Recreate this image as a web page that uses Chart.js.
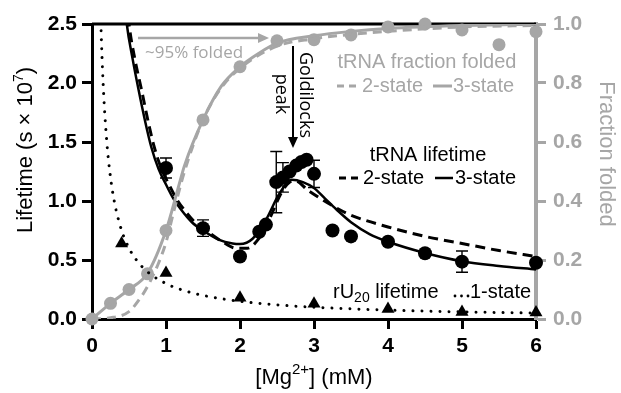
<!DOCTYPE html>
<html><head><meta charset="utf-8">
<script src="https://cdn.jsdelivr.net/npm/chart.js@4"></script>
<style>html,body{margin:0;padding:0;background:#fff}canvas{display:block}</style>
</head><body>
<canvas id="c" width="621" height="393"></canvas>
<script>
// tRNA lifetime (black circles), with error bars where visible
const lifeX   = [1.0, 1.5, 2.0, 2.26, 2.35, 2.49, 2.58, 2.67, 2.76, 2.83, 2.9, 3.0, 3.25, 3.5, 4.0, 4.5, 5.0, 6.0];
const lifeY   = [1.28, 0.77, 0.53, 0.74, 0.80, 1.16, 1.20, 1.25, 1.30, 1.33, 1.35, 1.23, 0.75, 0.70, 0.655, 0.557, 0.486, 0.477];
const lifeErr = [0.085, 0.07, 0, 0, 0, 0.26, 0.125, 0, 0, 0, 0, 0.115, 0, 0, 0, 0, 0.09, 0];

// tRNA fraction folded (grey circles, right axis)
const foldX = [0, 0.25, 0.5, 0.75, 1.0, 1.5, 2.0, 2.5, 3.0, 3.5, 4.0, 4.5, 5.0, 5.5, 6.0];
const foldY = [0, 0.053, 0.10, 0.153, 0.30, 0.675, 0.855, 0.943, 0.947, 0.963, 0.99, 1.0, 0.98, 0.93, 0.974];

// rU20 lifetime (triangles)
const rX = [0.4, 1.0, 2.0, 3.0, 4.0, 5.0, 6.0];
const rY = [0.64, 0.39, 0.18, 0.13, 0.085, 0.06, 0.055];

// fitted curves
const lt3X = [0.44, 0.47, 0.55, 0.63, 0.72, 0.8, 0.9, 1.0, 1.1, 1.2, 1.35, 1.5, 1.72, 1.9, 2.0, 2.17, 2.35, 2.53, 2.7, 2.85, 3.0, 3.15, 3.3, 3.5, 3.75, 4.0, 4.5, 5.0, 5.5, 6.0];
const lt3Y = [2.7, 2.5, 2.2, 1.94, 1.67, 1.46, 1.27, 1.14, 1.02, 0.93, 0.82, 0.75, 0.67, 0.64, 0.635, 0.68, 0.84, 1.06, 1.18, 1.16, 1.11, 1.02, 0.93, 0.82, 0.72, 0.655, 0.56, 0.49, 0.45, 0.42];
const lt2X = [0.47, 0.5, 0.58, 0.67, 0.76, 0.84, 0.94, 1.04, 1.14, 1.24, 1.39, 1.5, 1.75, 1.95, 2.1, 2.24, 2.4, 2.55, 2.67, 2.75, 2.92, 3.25, 3.5, 4.0, 4.5, 5.0, 5.5, 6.0];
const lt2Y = [2.7, 2.5, 2.2, 1.94, 1.67, 1.46, 1.27, 1.14, 1.02, 0.93, 0.82, 0.77, 0.66, 0.60, 0.60, 0.67, 0.85, 1.06, 1.16, 1.17, 1.09, 0.96, 0.88, 0.78, 0.70, 0.64, 0.58, 0.53];
const f3X = [0, 0.25, 0.5, 0.75, 1.0, 1.16, 1.25, 1.5, 1.75, 2.0, 2.25, 2.5, 3.0, 3.5, 4.0, 5.0, 6.0];
const f3Y = [0, 0.053, 0.10, 0.155, 0.30, 0.44, 0.52, 0.675, 0.79, 0.855, 0.90, 0.935, 0.96, 0.975, 0.985, 0.995, 1.0];
const f2X = [0, 0.25, 0.5, 0.65, 0.75, 0.9, 1.0, 1.1, 1.25, 1.5, 1.75, 2.0, 2.5, 3.0, 3.5, 4.0, 5.0, 6.0];
const f2Y = [0, 0.004, 0.025, 0.07, 0.11, 0.19, 0.26, 0.36, 0.50, 0.675, 0.785, 0.85, 0.925, 0.95, 0.965, 0.975, 0.99, 0.995];
const r1X = [0.11, 0.12, 0.15, 0.2, 0.25, 0.3, 0.4, 0.5, 0.6, 0.75, 1.0, 1.25, 1.5, 2.0, 2.5, 3.0, 4.0, 5.0, 6.0];
const r1Y = [2.75, 2.5, 2.0, 1.5, 1.2, 1.0, 0.75, 0.6, 0.5, 0.4, 0.3, 0.24, 0.2, 0.15, 0.12, 0.1, 0.075, 0.06, 0.05];

const GREY = "#a6a6a6";
const FONT = "'Liberation Sans', Arial, sans-serif";
const SERIF2 = "'Open Sans', 'Liberation Sans', sans-serif";
const pts = (xs, ys) => xs.map((x,i)=>({x, y:ys[i]}));

function rich(ctx, parts, x, y, align){
  let w = 0;
  parts.forEach(p=>{ ctx.font = p.f; p.w = ctx.measureText(p.t).width; w += p.w; });
  let cx = align === "center" ? x - w/2 : x;
  ctx.textAlign = "left";
  parts.forEach(p=>{ ctx.font = p.f; ctx.fillText(p.t, cx, y + (p.dy||0)); cx += p.w; });
  return cx;
}
function seg(ctx, x1, y1, x2, y2, col, w, dash){
  ctx.save(); ctx.strokeStyle = col; ctx.lineWidth = w; ctx.setLineDash(dash||[]);
  ctx.beginPath(); ctx.moveTo(x1,y1); ctx.lineTo(x2,y2); ctx.stroke(); ctx.restore();
}

const errBars = {
  id: "errBars",
  beforeDatasetsDraw(chart){
    const ctx = chart.ctx, a = chart.chartArea;
    seg(ctx, a.left, a.top, a.right, a.top, "#000", 3);
  },
  afterDatasetsDraw(chart){
    const ctx = chart.ctx, xs = chart.scales.x, ys = chart.scales.y;
    ctx.save();
    ctx.strokeStyle = "#000"; ctx.lineWidth = 1.4;
    lifeX.forEach((x,i)=>{
      const e = lifeErr[i]; if (!e) return;
      const px = xs.getPixelForValue(x);
      const y1 = ys.getPixelForValue(lifeY[i]+e), y2 = ys.getPixelForValue(lifeY[i]-e);
      ctx.beginPath();
      ctx.moveTo(px, y1); ctx.lineTo(px, y2);
      ctx.moveTo(px-6, y1); ctx.lineTo(px+6, y1);
      ctx.moveTo(px-6, y2); ctx.lineTo(px+6, y2);
      ctx.stroke();
    });
    ctx.restore();
  },
  afterDraw(chart){
    const ctx = chart.ctx;
    ctx.save();
    ctx.textBaseline = "middle";

    // axis titles
    ctx.fillStyle = "#000";
    ctx.save(); ctx.translate(26, 150); ctx.rotate(-Math.PI/2);
    rich(ctx, [{t:"Lifetime (s × 10", f:"22px "+FONT},{t:"7", f:"14px "+FONT, dy:-7},{t:")", f:"22px "+FONT}], 0, 0, "center");
    ctx.restore();
    rich(ctx, [{t:"[Mg", f:"22px "+FONT},{t:"2+", f:"15px "+FONT, dy:-8},{t:"] (mM)", f:"22px "+FONT}], 314, 378, "center");
    ctx.fillStyle = GREY;
    ctx.save(); ctx.translate(606, 154); ctx.rotate(Math.PI/2);
    rich(ctx, [{t:"Fraction folded", f:"22px "+FONT}], 0, 0, "center");
    ctx.restore();

    // fraction folded legend
    rich(ctx, [{t:"tRNA fraction folded", f:"20px "+FONT}], 427, 62, "center");
    seg(ctx, 337, 86, 359, 86, GREY, 3, [7,5]);
    rich(ctx, [{t:"2-state", f:"20px "+FONT}], 362, 86);
    seg(ctx, 433, 86, 452, 86, GREY, 3);
    rich(ctx, [{t:"3-state", f:"20px "+FONT}], 453, 86);

    // lifetime legend
    ctx.fillStyle = "#000";
    rich(ctx, [{t:"tRNA lifetime", f:"20px "+FONT}], 428, 155, "center");
    seg(ctx, 339, 178, 361, 178, "#000", 3, [7,5]);
    rich(ctx, [{t:"2-state", f:"20px "+FONT}], 363, 178);
    seg(ctx, 435, 178, 453, 178, "#000", 2.5);
    rich(ctx, [{t:"3-state", f:"20px "+FONT}], 455, 178);

    // rU20 legend
    rich(ctx, [{t:"rU", f:"20px "+FONT},{t:"20", f:"14px "+FONT, dy:6},{t:" lifetime", f:"20px "+FONT}], 333, 292);
    [455, 461.5, 468].forEach(x=>{ ctx.beginPath(); ctx.arc(x, 296, 1.4, 0, 2*Math.PI); ctx.fill(); });
    rich(ctx, [{t:"1-state", f:"20px "+FONT}], 470, 292);

    // ~95% folded arrow
    ctx.fillStyle = GREY;
    seg(ctx, 138, 38, 261, 38, GREY, 2.5);
    ctx.beginPath(); ctx.moveTo(269, 38); ctx.lineTo(258, 33); ctx.lineTo(258, 43); ctx.closePath(); ctx.fill();
    rich(ctx, [{t:"~95% folded", f:"17px "+SERIF2}], 145, 53);

    // Goldilocks peak arrow
    ctx.fillStyle = "#000";
    seg(ctx, 293, 46, 293, 140, "#000", 2);
    ctx.beginPath(); ctx.moveTo(293, 148); ctx.lineTo(288, 137); ctx.lineTo(298, 137); ctx.closePath(); ctx.fill();
    ctx.save(); ctx.translate(305, 95); ctx.rotate(Math.PI/2);
    rich(ctx, [{t:"Goldilocks", f:"18px "+SERIF2}], 0, 0, "center");
    ctx.restore();
    ctx.save(); ctx.translate(281, 94); ctx.rotate(Math.PI/2);
    rich(ctx, [{t:"peak", f:"18px "+SERIF2}], 0, 0, "center");
    ctx.restore();

    ctx.restore();
  }
};

const lineDs = (label, xs, ys, col, w, dash, axis) => ({
  type: "line", label, data: pts(xs, ys), yAxisID: axis || "y",
  borderColor: col, borderWidth: w, borderDash: dash || [], pointRadius: 0,
  cubicInterpolationMode: "monotone", fill: false
});

new Chart(document.getElementById("c"), {
  type: "scatter",
  data: {
    datasets: [
      Object.assign(lineDs("rU20 1-state", r1X, r1Y, "#000", 3, [0.01, 9]), {borderCapStyle: "round"}),
      lineDs("fraction 2-state", f2X, f2Y, GREY, 3, [9,6], "y2"),
      lineDs("fraction 3-state", f3X, f3Y, GREY, 3, [], "y2"),
      lineDs("lifetime 2-state", lt2X, lt2Y, "#000", 3, [10,6]),
      lineDs("lifetime 3-state", lt3X, lt3Y, "#000", 2.5),
      {label:"fraction folded", data: pts(foldX, foldY), yAxisID:"y2", pointRadius:6.5,
       backgroundColor: GREY, borderWidth:0, clip:false},
      {label:"rU20 lifetime", data: pts(rX, rY), pointStyle:"triangle", pointRadius:7.5,
       backgroundColor:"#000", borderWidth:0, clip:false},
      {label:"tRNA lifetime", data: pts(lifeX, lifeY), pointRadius:7,
       backgroundColor:"#000", borderWidth:0, clip:false}
    ]
  },
  options: {
    responsive: false, animation: false, devicePixelRatio: 1,
    layout: {padding: {top: 24, left: 0, right: 0, bottom: 0}},
    plugins: {legend: {display: false}, tooltip: {enabled: false}},
    scales: {
      x: {
        type: "linear", position: "bottom", min: 0, max: 6,
        ticks: {stepSize: 1, color: "#000", font: {family: FONT, size: 21, weight: "bold"}, padding: 5},
        grid: {drawOnChartArea: false, tickLength: 10, tickWidth: 3, tickColor: "#000"},
        border: {color: "#000", width: 3},
        afterFit: s => { s.height = 74; }
      },
      y: {
        position: "left", min: 0, max: 2.5,
        ticks: {stepSize: 0.5, color: "#000", font: {family: FONT, size: 21, weight: "bold"}, padding: 5,
                callback: v => v.toFixed(1)},
        grid: {drawOnChartArea: false, tickLength: 10, tickWidth: 3, tickColor: "#000"},
        border: {color: "#000", width: 3},
        afterFit: s => { s.width = 92; }
      },
      y2: {
        position: "right", min: 0, max: 1,
        ticks: {stepSize: 0.2, color: GREY, font: {family: FONT, size: 21, weight: "bold"}, padding: 7,
                callback: v => v.toFixed(1)},
        grid: {drawOnChartArea: false, tickLength: 10, tickWidth: 3, tickColor: GREY},
        border: {color: GREY, width: 4},
        afterFit: s => { s.width = 85; }
      }
    }
  },
  plugins: [errBars]
});
</script>
</body></html>
